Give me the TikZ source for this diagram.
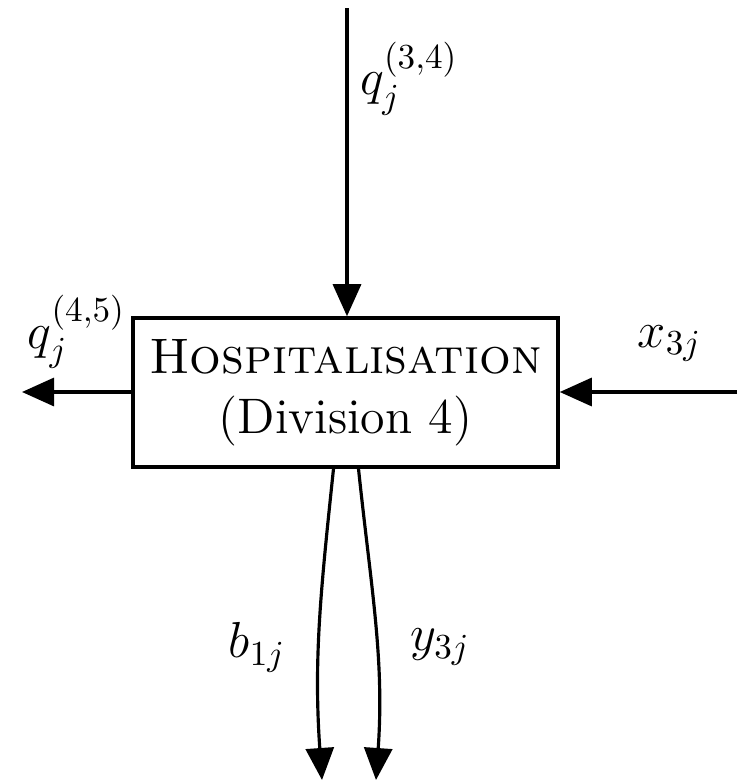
\documentclass[tikz,border=0pt]{standalone}
\usepackage{amsmath, amssymb}
\usepackage{tikz}
\usetikzlibrary{arrows.meta, positioning, calc}

\begin{document}
\begin{tikzpicture}[font=\fontsize{14.2}{17}\selectfont,
    flow/.style={line width=0.9pt, -{Triangle[length=0.32cm, width=0.28cm]}},
    division/.style={draw, line width=1pt, minimum width=4.25cm, minimum height=1.49cm, align=center, inner sep=0pt}]
    \useasboundingbox (0,0) rectangle (7.46,-7.82);

    % Service block
    \node[division] (hosp) at (3.455,-3.925) {\textsc{Hospitalisation}\\(Division 4)};

    % Free ends of the flows
    \coordinate (in34) at (3.47,-0.08);
    \coordinate (out45) at (0.22,-3.92);
    \coordinate (inx) at (7.37,-3.92);
    \coordinate (outb) at (3.22,-7.80);
    \coordinate (outy) at (3.76,-7.80);

    % Incoming flows
    \draw[flow] (in34) -- (in34 |- hosp.north) node[pos=0.23, right] {$q_j^{(3,4)}$};
    \draw[flow] (inx) -- (inx -| hosp.east) node[pos=0.38, above=0.17cm] {$x_{3j}$};

    % Outgoing flows
    \draw[flow] ([xshift=-0.12cm]hosp.south) to[out=-96, in=94] node[pos=0.58, left=0.2cm] {$b_{1j}$} (outb);
    \draw[flow] ([xshift=0.13cm]hosp.south) to[out=-84, in=86] node[pos=0.58, right=0.2cm] {$y_{3j}$} (outy);
    \draw[flow] (out45 -| hosp.west) -- (out45) node[midway, above=0.1cm] {$q_j^{(4,5)}$};
\end{tikzpicture}
\end{document}
